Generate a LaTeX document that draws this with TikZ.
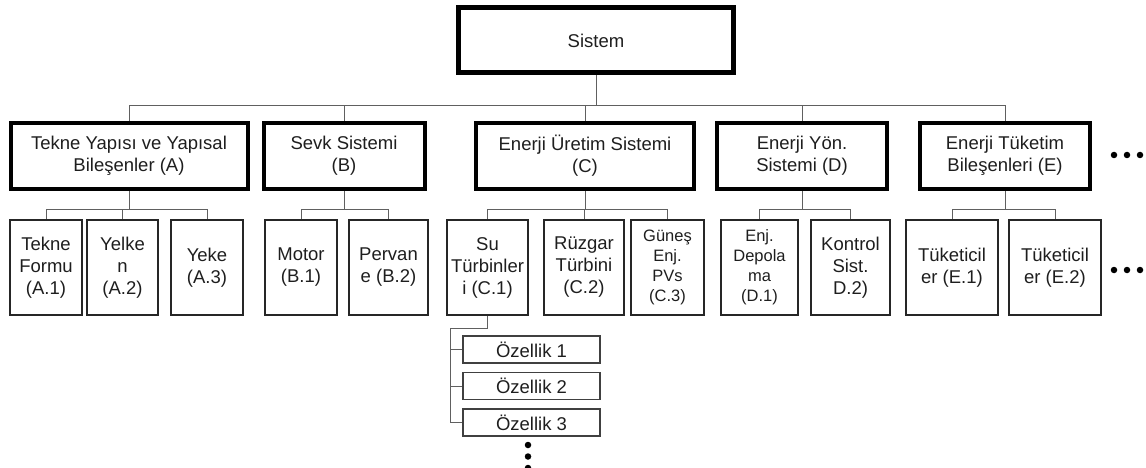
\documentclass[tikz,border=0pt]{standalone}
\usepackage{fontspec}
\setmainfont{Liberation Sans}
\usepackage{xcolor}
\usepackage{tikz}

\definecolor{txtgray}{HTML}{1E1E1E}
\definecolor{linkgray}{HTML}{606060}

\tikzset{
  box/.style={draw, rectangle, inner sep=0pt, align=center, text=txtgray,
    font=\fontsize{18.5}{22}\selectfont},
  topbox/.style={box, line width=5pt, minimum width=275pt, minimum height=65pt},
  mainbox/.style={box, line width=4pt, minimum height=66pt},
  subbox/.style={box, line width=1.5pt, draw=black!85, minimum height=95pt},
  smalltxt/.style={font=\fontsize{16.5}{20}\selectfont},
  featbox/.style={box, line width=1.2pt, draw=black!75, minimum width=137pt, minimum height=27pt},
  link/.style={draw=linkgray, line width=1pt},
  dot/.style={fill=black, circle, inner sep=0pt, minimum size=6.5pt}
}

\begin{document}
\begin{tikzpicture}[x=1pt, y=-1pt]
            \useasboundingbox (0,0) rectangle (1146,468);

            % top
            \node[topbox] (sys) at (596, 40.5) {Sistem};

            % main systems
            \node[mainbox, minimum width=237pt] (a) at (129, 156) {Tekne Yapısı ve Yapısal\\Bileşenler (A)};
            \node[mainbox, minimum width=161pt] (b) at (344, 156) {Sevk Sistemi\\(B)};
            \node[mainbox, minimum width=218pt] (c) at (585, 156) {Enerji Üretim Sistemi\\(C)};
            \node[mainbox, minimum width=170pt] (d) at (802, 156) {Enerji Yön.\\Sistemi (D)};
            \node[mainbox, minimum width=170pt] (e) at (1005, 156) {Enerji Tüketim\\Bileşenleri (E)};

            % components
            \node[subbox, minimum width=72pt] (a1) at (46, 267.5) {Tekne\\Formu\\(A.1)};
            \node[subbox, minimum width=71pt] (a2) at (122.5, 267.5) {Yelke\\n\\(A.2)};
            \node[subbox, minimum width=72pt] (a3) at (207, 267.5) {Yeke\\(A.3)};
            \node[subbox, minimum width=72pt] (b1) at (301, 267.5) {Motor\\(B.1)};
            \node[subbox, minimum width=79pt] (b2) at (388.5, 267.5) {Pervan\\e (B.2)};
            \node[subbox, minimum width=81pt] (c1) at (487.5, 267.5) {Su\\Türbinler\\i (C.1)};
            \node[subbox, minimum width=80pt] (c2) at (584, 267.5) {Rüzgar\\Türbini\\(C.2)};
            \node[subbox, smalltxt, minimum width=73pt] (c3) at (667.5, 267.5) {Güneş\\Enj.\\PVs\\(C.3)};
            \node[subbox, smalltxt, minimum width=77pt] (d1) at (759.5, 267.5) {Enj.\\Depola\\ma\\(D.1)};
            \node[subbox, minimum width=79pt] (d2) at (850.5, 267.5) {Kontrol\\Sist.\\D.2)};
            \node[subbox, minimum width=92pt] (e1) at (952, 267.5) {Tüketicil\\er (E.1)};
            \node[subbox, minimum width=92pt] (e2) at (1055, 267.5) {Tüketicil\\er (E.2)};

            % features of C.1
            \node[featbox] (f1) at (531.5, 349.5) {Özellik 1};
            \node[featbox] (f2) at (531.5, 386) {Özellik 2};
            \node[featbox] (f3) at (531.5, 422.5) {Özellik 3};

            % system -> main systems
            \foreach \m in {a, b, c, d, e}
              \draw[link] (sys.south) -- ++(0,30) -| (\m.north);

            % main systems -> components
            \foreach \m/\s in {a/a1, a/a2, a/a3, b/b1, b/b2, c/c1, c/c2, c/c3, d/d1, d/d2, e/e1, e/e2}
              \draw[link] (\m.south) -- ++(0,18) -| (\s.north);

            % C.1 -> features
            \draw[link] (c1.south) -- ++(0,13) -| ([xshift=-12pt]f3.west) -- (f3.west);
            \draw[link] ([xshift=-12pt]f1.west) -- (f1.west);
            \draw[link] ([xshift=-12pt]f2.west) -- (f2.west);

            % more dots
            \foreach \x in {1114, 1127, 1140} {
              \node[dot] at (\x, 155) {};
              \node[dot] at (\x, 270) {};
            }
            \foreach \y in {445, 456.5, 468}
              \node[dot] at (528, \y) {};
        \end{tikzpicture}
\end{document}
